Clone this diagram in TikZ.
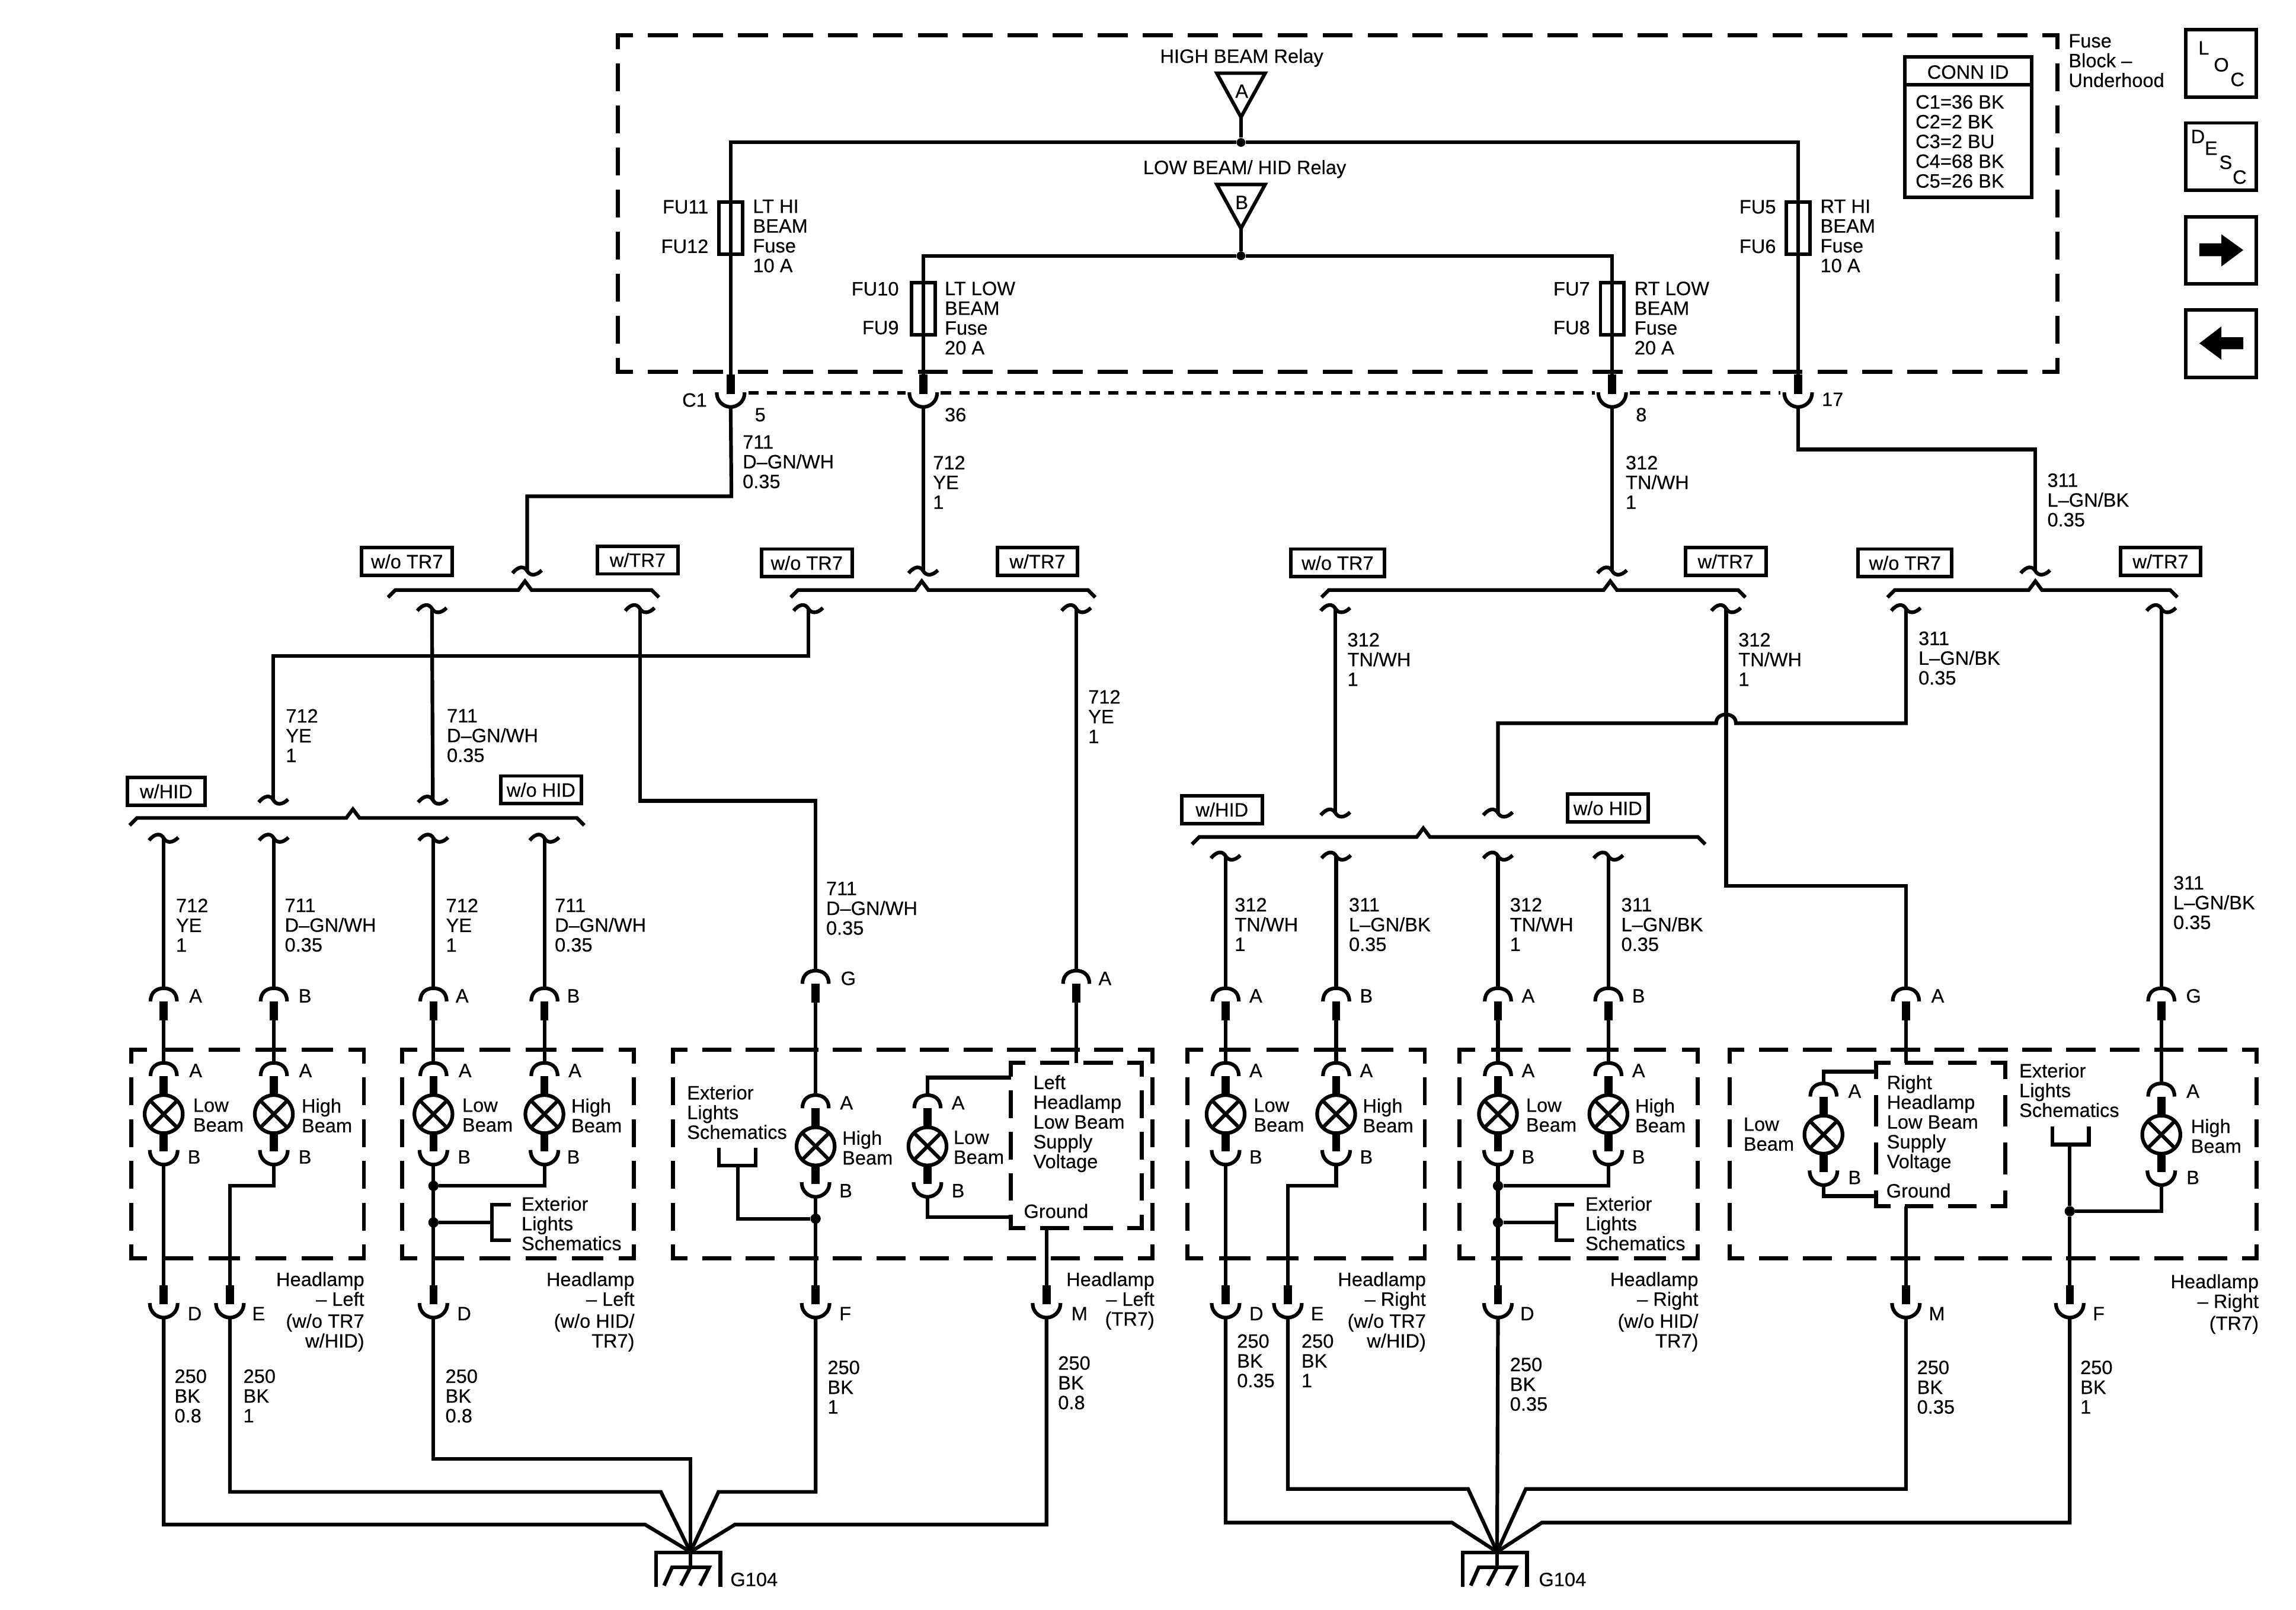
\documentclass[tikz,border=0pt]{standalone}
\usepackage{fontspec}
\setmainfont{Liberation Sans}[BoldFont=Liberation Sans, BoldFeatures={FakeBold=0.25}]

\tikzset{
  wire/.style={line width=2.5pt},
  pinbar/.style={line width=5.5pt},
  boxline/.style={line width=2.4pt},
  dashbox/.style={line width=2.8pt, line cap=rect},
  dotline/.style={line width=2.5pt, dash pattern=on 7pt off 5.7pt},
  lbl/.style={inner sep=0pt, yshift=4.85pt, anchor=north west, align=left,
    font=\fontsize{13.2}{13.5}\selectfont\bfseries, execute at begin node=\strut},
  lblr/.style={lbl, anchor=north east, align=right},
  lblc/.style={lbl, anchor=north, align=center},
  tag/.style={draw, line width=2.4pt, inner sep=0pt, minimum height=19pt,
    font=\fontsize{13.2}{13.5}\selectfont\bfseries},
  jdot/.style={circle, fill=black, inner sep=0pt, minimum size=7pt},
  bulb/.style={circle, draw, line width=2.5pt, inner sep=0pt, minimum size=26pt}
}

% mating pin, arc on top
\newcommand{\pinTop}[3]{
  \coordinate (#1) at (#2,#3);
  \coordinate (#1-e) at (#2,#3+22);
  \draw[wire] (#2-9,#3+9) .. controls (#2-9,#3+2) and (#2-4,#3) .. (#2,#3)
    .. controls (#2+4,#3) and (#2+9,#3+2) .. (#2+9,#3+9);
  \draw[pinbar] (#2,#3+9) -- (#1-e);
}
% mating pin, arc below
\newcommand{\pinBot}[3]{
  \coordinate (#1) at (#2,#3);
  \coordinate (#1-e) at (#2,#3-22);
  \draw[wire] (#2-9.5,#3-10) .. controls (#2-9.5,#3-3) and (#2-4,#3) .. (#2,#3)
    .. controls (#2+4,#3) and (#2+9.5,#3-3) .. (#2+9.5,#3-10);
  \draw[pinbar] (#2,#3-9) -- (#1-e);
}
% lamp with both pins
\newcommand{\lampSym}[3]{
  \pinTop{#1-t}{#2}{#3-35}
  \pinBot{#1-b}{#2}{#3+34.5}
  \draw[pinbar] (#1-t-e) -- (#2,#3);
  \draw[pinbar] (#1-b-e) -- (#2,#3);
  \node[bulb, fill=white] (#1) at (#2,#3) {};
  \draw[wire] (#2-9,#3-9) -- (#2+9,#3+9) (#2-9,#3+9) -- (#2+9,#3-9);
}
% tilde where a wire stops at an option split
\newcommand{\squig}[3]{
  \coordinate (#1) at (#2,#3);
  \draw[wire] (#2-10,#3+1.5) .. controls (#2-6,#3-3.5) and (#2-2,#3-3.5) .. (#2,#3)
    .. controls (#2+2,#3+3.5) and (#2+6,#3+3.5) .. (#2+10,#3-0.5);
}
\newcommand{\optBrace}[4]{
  \draw[wire] (#1-5,#4+5) -- (#1,#4) -- (#2-4.5,#4) -- (#2,#4-6) -- (#2+4.5,#4) -- (#3,#4) -- (#3+5,#4+5);
}
\newcommand{\gndSym}[2]{
  \coordinate (#1) at (#2,1060);
  \draw[line width=2.7pt] (#2-23.5,1084) -- (#2-23.5,1060.4) -- (#2+20.5,1060.4) -- (#2+20.5,1084);
  \draw[wire] (#1) -- (#2,1070.5);
  \draw[wire] (#2-18,1083) -- (#2-12.5,1070.5) -- (#2+12.8,1070.5) -- (#2+6.5,1083)
    (#2,1070.5) -- (#2-6.5,1083);
}
% dashed side with half a dash at both corners
\newcommand{\dashSide}[4]{
  \pgfmathsetmacro{\dlen}{abs(#3-#1)+abs(#4-#2)}
  \pgfmathsetmacro{\dcnt}{max(round(\dlen/30.5),1)}
  \pgfmathsetmacro{\don}{\dlen/\dcnt*0.667-2.8}
  \pgfmathsetmacro{\doff}{\dlen/\dcnt*0.333+2.8}
  \pgfmathsetmacro{\dph}{\don/2}
  \draw[dashbox, dash pattern=on \don pt off \doff pt, dash phase=\dph pt] (#1,#2) -- (#3,#4);
}
\newcommand{\dashRect}[4]{
  \dashSide{#1}{#2}{#3}{#2}
  \dashSide{#3}{#2}{#3}{#4}
  \dashSide{#3}{#4}{#1}{#4}
  \dashSide{#1}{#4}{#1}{#2}
}

\newcommand{\wA}{711\\D–GN/WH\\0.35}
\newcommand{\wB}{712\\YE\\1}
\newcommand{\wC}{312\\TN/WH\\1}
\newcommand{\wD}{311\\L–GN/BK\\0.35}

\begin{document}
\begin{tikzpicture}[x=1pt,y=-1pt]
\useasboundingbox (0,0) rectangle (1568,1099.7);

% Fuse block
\dashRect{422}{24}{1405}{254}
\node[lblc] (relayhi) at (848,38) {HIGH BEAM Relay};
\node[lblc] (relaylo) at (850,114) {LOW BEAM/ HID Relay};
\draw[boxline] (831,50) -- (864,50) -- (847.5,80) -- cycle;
\draw[boxline] (831,126) -- (864,126) -- (847.5,156) -- cycle;
\node[lblc] (relayA) at (848,62) {A};
\node[lblc] (relayB) at (848,138) {B};
\coordinate (relayAp) at (847.5,80);
\coordinate (relayBp) at (847.5,156);
\node[jdot, minimum size=6pt] (busA) at (847.5,97.3) {};
\node[jdot, minimum size=6pt] (busB) at (847.5,174.7) {};
\draw[wire] (relayAp) -- (busA);
\draw[wire] (relayBp) -- (busB);

% Fuses
\foreach \nm/\x/\y in {fuA/499/137, fuB/630.5/192, fuC/1101/192, fuD/1228/137} {
  \node[draw, boxline, inner sep=0pt, minimum width=16pt, minimum height=35.5pt, anchor=north] (\nm) at (\x,\y) {};
}
\foreach \x/\y/\txt [count=\i] in {484/141/FU11, 484/168/FU12, 614/197/FU10, 614/223.5/FU9,
    1213/141/FU5, 1213/168/FU6, 1086/197/FU7, 1086/223.5/FU8} {
  \node[lblr] (fuse\i) at (\x,\y) {\txt};
}
\foreach \x/\y/\txt [count=\i] in {514/141/LT HI\\BEAM\\Fuse\\10 A, 645/197/LT LOW\\BEAM\\Fuse\\20 A,
    1243/141/RT HI\\BEAM\\Fuse\\10 A, 1116/197/RT LOW\\BEAM\\Fuse\\20 A} {
  \node[lbl] (fusetxt\i) at (\x,\y) {\txt};
}
\node[lbl] (blockname) at (1412.5,28) {Fuse\\Block –\\Underhood};

% C1
\pinBot{cA}{499}{278}
\pinBot{cB}{630.5}{278}
\pinBot{cC}{1101}{278}
\pinBot{cD}{1228}{278}
\draw[dotline] ([xshift=12pt,yshift=9.5pt]cA) -- ([xshift=-12pt,yshift=9.5pt]cB);
\draw[dotline] ([xshift=12pt,yshift=9.5pt]cB) -- ([xshift=-12pt,yshift=9.5pt]cC);
\draw[dotline] ([xshift=12pt,yshift=9.5pt]cC) -- ([xshift=-12pt,yshift=9.5pt]cD);
\draw[wire] (busA) -| (fuA.north) -- (cA-e);
\draw[wire] (busA) -| (fuD.north) -- (cD-e);
\draw[wire] (busB) -| (fuB.north) -- (cB-e);
\draw[wire] (busB) -| (fuC.north) -- (cC-e);
\foreach \x/\y/\txt [count=\i] in {515.3/283/5, 645/283/36, 1117/283/8, 1244/272.5/17} {
  \node[lbl] (cavity\i) at (\x,\y) {\txt};
}
\node[lblr] (cname) at (483,273) {C1};

% Conn ID table
\draw[boxline] (1301,39) rectangle (1387.5,134.6);
\draw[boxline] (1301,58) -- (1387.5,58);
\node[lblc] (connhd) at (1344,49) {CONN ID};
\node[lbl] (conntxt) at (1308,69.6) {C1=36 BK\\C2=2 BK\\C3=2 BU\\C4=68 BK\\C5=26 BK};

% Buttons
\foreach \y in {20.4, 84, 148, 211.8} {
  \draw[boxline] (1492.7,\y) rectangle (1541,\y+46);
}
\foreach \x/\y/\txt [count=\i] in {1505/32.5/L, 1517/44/O, 1528/54/C, 1501/93/D, 1510/101/E, 1520/110.6/S, 1529.5/120.7/C} {
  \node[lblc] (btn\i) at (\x,\y) {\txt};
}
\fill (1502,166.2) -- (1517,166.2) -- (1517,160) -- (1532,170.8) -- (1517,182) -- (1517,175) -- (1502,175) -- cycle;
\fill (1532,230.4) -- (1517,230.4) -- (1517,223) -- (1502,234.5) -- (1517,245.7) -- (1517,238.5) -- (1532,238.5) -- cycle;

% Option tags
\foreach \nm/\x/\y/\tw/\txt in {tagA/278/383.5/62/{w/o TR7}, tagB/435.5/382.5/55/{w/TR7},
    tagC/551/384.5/62/{w/o TR7}, tagD/708.5/383.5/55/{w/TR7},
    tagE/913.5/384.5/64/{w/o TR7}, tagF/1178.5/383.5/55/{w/TR7},
    tagG/1301/384.5/64/{w/o TR7}, tagH/1475.5/383.5/55/{w/TR7},
    tagI/113.5/540.5/53/{w/HID}, tagJ/369.5/539.5/55/{w/o HID},
    tagK/834.5/553/55/{w/HID}, tagL/1098/552/55/{w/o HID}} {
  \node[tag, minimum width=\tw pt] (\nm) at (\x,\y) {\txt};
}

% Option splits
\optBrace{270}{358.5}{445}{403}
\optBrace{545}{629.5}{743}{403}
\optBrace{907.5}{1099.7}{1187}{403}
\optBrace{1294}{1390}{1482}{403}
\optBrace{93.5}{241}{394}{558.7}
\optBrace{819}{972}{1159.6}{571.7}
\foreach \nm/\x/\y in {sA/360/390, sB/630.5/390, sC/1101/390, sD/1390/390,
    sa/295/415.7, sb/437/415.7, sc/552/415.7, sd/735/415.7,
    se/912/415.7, sf/1178.8/415.7, sg/1301.6/415.7, sh/1476/415.7,
    si/186.7/546.5, sj/295.6/546.5, sk/912/555.3, sl/1023/555.3,
    sm/111.8/572.5, sn/187/572.5, so/296/572.5, sp/371.8/572.5,
    sq/837/584.7, sr/912.5/584.7, ss/1023/584.7, st/1098.4/584.7} {
  \squig{\nm}{\x}{\y}
}

% Wires to the option splits
\coordinate (wbendA) at (499.5,339);
\coordinate (wbendD) at (1228,307);
\coordinate (wbendc) at (552,448);
\coordinate (wbendb) at (437,547);
\coordinate (wbendf) at (1178.8,605);
\coordinate (hopR) at (1185.5,494);
\coordinate (hopL) at (1172,494);
\draw[wire] (cA) -- (wbendA) -| (sA);
\draw[wire] (cB) -- (sB);
\draw[wire] (cC) -- (sC);
\draw[wire] (cD) -- (wbendD) -| (sD);
\draw[wire] (sa) -- (sj);
\draw[wire] (sc) -- (wbendc) -| (si);
\draw[wire] (se) -- (sk);
\draw[wire] (sg) |- (hopR) .. controls (1185.5,486) and (1172,486) .. (hopL) -| (sl);
\foreach \x/\y/\txt [count=\i] in {507/302/\wA, 637/316/\wB, 1110/316/\wC, 1398/328/\wD,
    195/489/\wB, 305/489/\wA, 743/476/\wB, 564/607/\wA,
    120/618.5/\wB, 194.3/618.5/\wA, 304.4/618.5/\wB, 378.7/618.5/\wA,
    920/437/\wC, 1187/437/\wC, 1310/436/\wD, 1484/603/\wD,
    843/618/\wC, 921/618/\wD, 1031/618/\wC, 1107/618/\wD} {
  \node[lbl] (wlab\i) at (\x,\y) {\txt};
}

% Harness pins
\foreach \nm/\x/\y in {hA/111.8/675, hB/187/675, hC/296/675, hD/371.8/675,
    hE/837/675, hF/912.5/675, hG/1023/675, hH/1098.4/675,
    hK/1301.6/675, hL/1476/675, pG/557/663, pH/735/663} {
  \pinTop{\nm}{\x}{\y}
}
\foreach \nm/\x/\y in {la/111.8/761, lb/187/761, lc/296/761, ld/371.8/761,
    lg/837/761, lh/912.5/761, li/1023/761, lj/1098.4/761,
    le/557/783, lf/633.4/783, lk/1245.3/775, ll/1476/775} {
  \lampSym{\nm}{\x}{\y}
}
\foreach \nm/\x in {bA/111.8, bB/157, bC/296, bD/557, bE/714.7,
    bF/837, bG/879.5, bH/1023, bI/1301.6, bJ/1413.5} {
  \pinBot{\nm}{\x}{900}
}

% Headlamp boxes
\foreach \xa/\xb in {89.7/248.5, 274.5/433, 459.6/787, 811/973, 996.5/1159.5, 1181.3/1541} {
  \dashRect{\xa}{717}{\xb}{859.5}
}
\dashRect{690.3}{726}{779.8}{839}
\dashRect{1281.2}{726}{1369.5}{824}

% Wires through the headlamps
\foreach \ea/\eb in {sm/hA, sn/hB, so/hC, sp/hD, sq/hE, sr/hF, ss/hG, st/hH, sd/pH, sh/hL,
    hA-e/la-t, hB-e/lb-t, hC-e/lc-t, hD-e/ld-t, hE-e/lg-t, hF-e/lh-t, hG-e/li-t, hH-e/lj-t,
    pG-e/le-t, hL-e/ll-t,
    la-b/bA-e, lc-b/bC-e, lg-b/bF-e, li-b/bH-e, le-b/bD-e} {
  \draw[wire] (\ea) -- (\eb);
}
\coordinate (wbendh) at (557,547);
\draw[wire] (sb) -- (wbendb) -- (wbendh) -- (pG);
\coordinate (wbendg) at (1301.6,605);
\draw[wire] (sf) -- (wbendf) -- (wbendg) -- (hK);
\coordinate (lampbA) at (187,810);
\coordinate (lampbB) at (157,810);
\draw[wire] (lb-b) -- (lampbA) -- (lampbB) -- (bB-e);
\coordinate (lampbC) at (912.5,810);
\coordinate (lampbD) at (879.5,810);
\draw[wire] (lh-b) -- (lampbC) -- (lampbD) -- (bG-e);
\node[jdot] (jcA) at (296,810) {};
\node[jdot] (jcB) at (296,835) {};
\node[jdot] (jiA) at (1023,810) {};
\node[jdot] (jiB) at (1023,835) {};
\node[jdot] (jeA) at (557,832.4) {};
\node[jdot] (jkA) at (1413.5,827.3) {};
\draw[wire] (ld-b) |- (jcA);
\draw[wire] (lj-b) |- (jiA);
\draw[wire] (ll-b) |- (jkA);

% Exterior lights brackets
\draw[wire] (349,823) -- (336,823) -- (336,847) -- (349,847);
\draw[wire] (jcB) -- (336,835);
\draw[wire] (1075,823) -- (1063,823) -- (1063,847) -- (1075,847);
\draw[wire] (jiB) -- (1063,835);
\draw[wire] (491,784) -- (491,796) -- (516,796) -- (516,784);
\draw[wire] (503.8,796) |- (jeA);
\draw[wire] (1401.5,769.4) -- (1401.5,781.8) -- (1426.5,781.8) -- (1426.5,769.4);
\draw[wire] (1413.5,781.8) -- (jkA) -- (bJ-e);

% Low beam supply boxes
\draw[wire] (pH-e) -- (735,726);
\draw[wire] (lf-t) |- (690.3,736);
\draw[wire] (lf-b) |- (690.3,831.4);
\draw[wire] (714.7,839) -- (bE-e);
\draw[wire] (hK-e) -- (1301.6,726);
\draw[wire] (lk-t) |- (1281.2,732);
\draw[wire] (lk-b) |- (1281.2,817);
\draw[wire] (1301.6,824) -- (bI-e);

% Pin letters
\foreach \x/\y/\txt [count=\i] in {129/680/A, 203.7/680/B, 311/680/A, 387/680/B,
    129/731/A, 204/731/A, 313/731/A, 388/731/A, 128/790/B, 203.7/790/B, 312.4/790/B, 387/790/B,
    853/680/A, 928.5/680/B, 1039/680/A, 1114.4/680/B,
    853/731/A, 928.5/731/A, 1039/731/A, 1114.4/731/A, 853/790/B, 928.5/790/B, 1039/790/B, 1114.4/790/B,
    574/668/G, 750/668/A, 573.5/753/A, 573/813/B, 649.7/753/A, 649.7/813/B,
    1318.7/680/A, 1492.7/680/G, 1262/745/A, 1262/804/B, 1493/745/A, 1493/804/B,
    128/897/D, 172/897/E, 312/897/D, 573/897/F, 731.5/897/M,
    853/897/D, 895/897/E, 1038/897/D, 1317/897/M, 1429/897/F} {
  \node[lbl] (pinl\i) at (\x,\y) {\txt};
}

% Lamp and box texts
\foreach \x/\y/\txt [count=\i] in {131.7/755/Low\\Beam, 205.8/755/High\\Beam, 315.5/755/Low\\Beam, 390/755/High\\Beam,
    856/755/Low\\Beam, 930.5/755/High\\Beam, 1042/755/Low\\Beam, 1116.5/755/High\\Beam,
    575/777/High\\Beam, 651/777/Low\\Beam, 1190.5/768/Low\\Beam, 1496/769/High\\Beam,
    356/822/Exterior\\Lights\\Schematics, 1082.5/822/Exterior\\Lights\\Schematics,
    469/746/Exterior\\Lights\\Schematics, 1378.8/731/Exterior\\Lights\\Schematics,
    705.5/739/Left\\Headlamp\\Low Beam\\Supply\\Voltage, 699/827/Ground,
    1288.4/739/Right\\Headlamp\\Low Beam\\Supply\\Voltage, 1288/813/Ground} {
  \node[lbl] (boxt\i) at (\x,\y) {\txt};
}
\foreach \x/\y/\txt [count=\i] in {249/873.5/{Headlamp\\– Left\\[1.5pt](w/o TR7\\w/HID)}, 433.5/873.5/{Headlamp\\– Left\\[1.5pt](w/o HID/\\TR7)},
    788.6/873.5/Headlamp\\– Left\\(TR7), 974/873.5/{Headlamp\\– Right\\[1.5pt](w/o TR7\\w/HID)},
    1160/873.5/{Headlamp\\– Right\\[1.5pt](w/o HID/\\TR7)}, 1542.7/875/{Headlamp\\– Right\\[1.5pt](TR7)}} {
  \node[lblr] (hname\i) at (\x,\y) {\txt};
}

% Ground wires
\foreach \x/\y/\txt [count=\i] in {119/940/250\\BK\\0.8, 166/940/250\\BK\\1, 304/940/250\\BK\\0.8,
    565/934/250\\BK\\1, 722.4/931/250\\BK\\0.8, 844.6/916/250\\BK\\0.35, 888.6/916/250\\BK\\1,
    1031/932/250\\BK\\0.35, 1309/934/250\\BK\\0.35, 1420.5/934/250\\BK\\1} {
  \node[lbl] (gwlab\i) at (\x,\y) {\txt};
}
\gndSym{gA}{471.5}
\gndSym{gB}{1022.4}
\node[lbl] (gAname) at (498.6,1078.6) {G104};
\node[lbl] (gBname) at (1050.7,1078.6) {G104};
\coordinate (gAa) at (440.5,1041.3);
\coordinate (gAb) at (451.3,1019);
\coordinate (gAc) at (471.5,996.4);
\coordinate (gAd) at (490.7,1019);
\coordinate (gAe) at (502,1041.3);
\draw[wire] (bA) |- (gAa) -- (gA);
\draw[wire] (bB) |- (gAb) -- (gA);
\draw[wire] (bC) |- (gAc) -- (gA);
\draw[wire] (bD) |- (gAd) -- (gA);
\draw[wire] (bE) |- (gAe) -- (gA);
\coordinate (gBa) at (991.6,1040);
\coordinate (gBb) at (1002.6,1017);
\coordinate (gBd) at (1042,1017);
\coordinate (gBe) at (1053,1040);
\draw[wire] (bF) |- (gBa) -- (gB);
\draw[wire] (bG) |- (gBb) -- (gB);
\draw[wire] (bH) -- (gB);
\draw[wire] (bI) |- (gBd) -- (gB);
\draw[wire] (bJ) |- (gBe) -- (gB);

\end{tikzpicture}
\end{document}
